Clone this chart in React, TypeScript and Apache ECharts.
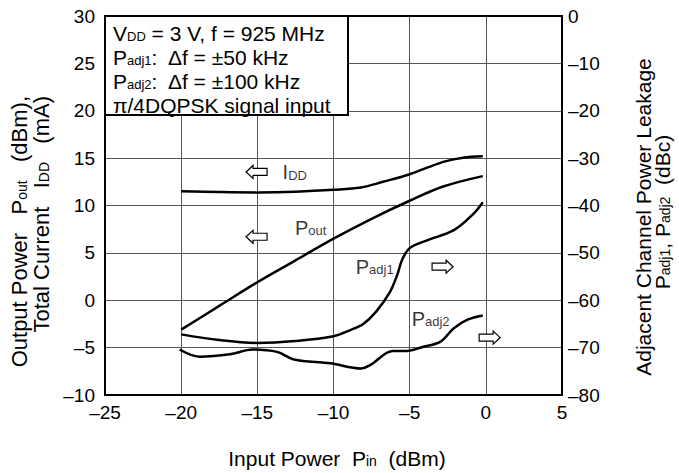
import React, { useEffect, useRef } from "react";
import * as echarts from "echarts";

const FONT = "'Liberation Sans', Arial, Helvetica, sans-serif";

// Axis ranges
const xRange = [-25, 5, 5];
const leftRange = [-10, 30, 5];
const rightRange = [-80, 0, 10];

// Curves: [Pin dBm, value]
const iddData = [
  [-20, 11.5], [-17.5, 11.42], [-15, 11.38], [-12.5, 11.45], [-10, 11.65],
  [-8.2, 11.9], [-6.75, 12.5], [-5, 13.3], [-2.8, 14.6], [-1.5, 15.05], [-0.2, 15.2],
];
const poutData = [
  [-20, -3.1], [-17.5, -0.6], [-15, 1.9], [-12.5, 4.2], [-10, 6.5],
  [-7.5, 8.6], [-5, 10.5], [-2.8, 12.0], [-0.2, 13.1],
];
// right axis (dBc)
const padj1Data = [
  [-20, -67.2], [-17.5, -68.4], [-15, -69.0], [-12.5, -68.6], [-10, -67.6],
  [-8.9, -66.3], [-8.05, -65.0], [-7.2, -62.4], [-6.3, -58.3], [-5.8, -54.5],
  [-5.5, -51.5], [-5.0, -49.0], [-3.9, -47.4], [-2.1, -45.2], [-0.8, -41.7], [-0.2, -39.3],
];
const padj2Data = [
  [-20.1, -70.4], [-18.8, -71.9], [-16.8, -71.4], [-15.3, -70.4], [-13.7, -70.9],
  [-12.6, -72.5], [-10.2, -73.3], [-8.2, -74.4], [-7.6, -73.7], [-6.1, -70.7],
  [-5.2, -70.7], [-4.1, -69.8], [-3.0, -68.8], [-2.1, -65.9], [-1.2, -64.1], [-0.2, -63.2],
];

// Curve labels (left-axis units)
const curveLabels = [
  { value: [-13.34, 13.5], name: "{m|I}{s|DD}" },
  { value: [-12.53, 7.63], name: "{m|P}{s|out}" },
  { value: [-8.54, 3.54], name: "{m|P}{s|adj1}" },
  { value: [-4.87, -2.0], name: "{m|P}{s|adj2}" },
];
// Hollow arrows: [x, y(left units), direction]
const arrowData = [
  [-15.74, 13.54, -1],
  [-15.74, 6.7, -1],
  [-2.15, 3.54, 1],
  [0.94, -3.95, 1],
];

const legendLines = [
  "{m|V}{s|DD}{m| = 3 V, f = 925 MHz}",
  "{m|P}{s|adj1}{m|:  Δf = ±50 kHz}",
  "{m|P}{s|adj2}{m|:  Δf = ±100 kHz}",
  "{m|π/4DQPSK signal input}",
];

const xAxisTitle = "{m|Input Power  P}{s|in}{m|  (dBm)}";
const leftTitle1 = "{m|Output Power   P}{s|out}{m|   (dBm),}";
const leftTitle2 = "{m|Total Current   I}{s|DD}{m|   (mA)}";
const rightTitle1 = "{m|Adjacent Channel Power Leakage}";
const rightTitle2 = "{m|P}{s|adj1}{m|, P}{s|adj2}{m|  (dBc)}";

const fmt = (v: number) => (v < 0 ? "\u2013" + Math.abs(v) : String(v));

// main font, sub font, line height, sub box height (sets the subscript's vertical position)
const rich = (main: number, sub: number, lh: number, sh: number) => ({
  m: { fontSize: main, fontFamily: FONT, color: "#000", lineHeight: lh },
  s: { fontSize: sub, fontFamily: FONT, color: "#000", lineHeight: 10, height: sh, verticalAlign: "bottom" },
});

export default function App() {
  const ref = useRef<HTMLDivElement>(null);
  useEffect(() => {
    if (!ref.current) return;
    const chart = echarts.init(ref.current, null, { renderer: "svg" });
    const line = (data: number[][], yIdx: number) => ({
      type: "line",
      data,
      yAxisIndex: yIdx,
      showSymbol: false,
      smooth: 0.35,
      lineStyle: { color: "#000", width: 2.5 },
      silent: true,
      z: 3,
    });
    const txtRich = rich(20, 13, 24, 18.5);
    const axRich = rich(21, 14, 24, 18.5);
    const leftRich = rich(22, 14, 26, 20);
    chart.setOption({
      animation: false,
      backgroundColor: "#fff",
      grid: {
        left: 105, right: 117, top: 16, bottom: 78,
        show: true, borderColor: "#000", borderWidth: 2, z: 4,
      },
      xAxis: {
        type: "value", min: xRange[0], max: xRange[1], interval: xRange[2],
        axisLine: { show: false }, axisTick: { show: false },
        splitLine: { show: true, lineStyle: { color: "#555", width: 1 } },
        axisLabel: { formatter: fmt, fontSize: 19, fontFamily: FONT, color: "#000", margin: 8 },
      },
      yAxis: [
        {
          type: "value", min: leftRange[0], max: leftRange[1], interval: leftRange[2],
          axisLine: { show: false }, axisTick: { show: false },
          splitLine: { show: true, lineStyle: { color: "#555", width: 1 } },
          axisLabel: { formatter: fmt, fontSize: 19, fontFamily: FONT, color: "#000", margin: 10 },
        },
        {
          type: "value", min: rightRange[0], max: rightRange[1], interval: rightRange[2],
          position: "right",
          axisLine: { show: false }, axisTick: { show: false },
          splitLine: { show: false },
          axisLabel: { formatter: fmt, fontSize: 19, fontFamily: FONT, color: "#000", margin: 6 },
        },
      ],
      series: [
        line(iddData, 0),
        line(poutData, 0),
        line(padj1Data, 1),
        line(padj2Data, 1),
        {
          type: "scatter",
          yAxisIndex: 0,
          symbolSize: 0,
          data: curveLabels,
          silent: true,
          label: {
            show: true, position: "right", distance: 0,
            formatter: (p: any) => p.name,
            rich: txtRich,
          },
          z: 5,
        },
        {
          type: "custom",
          yAxisIndex: 0,
          data: arrowData,
          silent: true,
          z: 5,
          renderItem: (_params: any, api: any) => {
            const p = api.coord([api.value(0), api.value(1)]);
            const s = -api.value(2);
            const shape = [[0, 0], [7, -6.5], [7, -3.5], [21, -3.5], [21, 3.5], [7, 3.5], [7, 6.5]];
            return {
              type: "polygon",
              shape: { points: shape.map(([a, b]) => [p[0] + s * a, p[1] + b]) },
              style: { fill: "#fff", stroke: "#000", lineWidth: 1.2 },
            };
          },
        },
      ],
      graphic: [
        {
          type: "rect", z: 10,
          shape: { x: 105, y: 16, width: 243, height: 99 },
          style: { fill: "#fff", stroke: "#000", lineWidth: 2 },
        },
        {
          type: "text", z: 11, x: 113, y: 21,
          style: { text: legendLines.join("\n"), rich: rich(21, 13, 24, 18), align: "left", verticalAlign: "top" },
        },
        {
          type: "text", z: 11, x: 337, y: 458,
          style: { text: xAxisTitle, rich: axRich, align: "center", verticalAlign: "middle" },
        },
        {
          type: "text", z: 11, x: 19, y: 96, rotation: Math.PI / 2,
          style: { text: leftTitle1, rich: leftRich, align: "right", verticalAlign: "middle" },
        },
        {
          type: "text", z: 11, x: 41, y: 96, rotation: Math.PI / 2,
          style: { text: leftTitle2, rich: leftRich, align: "right", verticalAlign: "middle" },
        },
        {
          type: "text", z: 11, x: 643, y: 217, rotation: Math.PI / 2,
          style: { text: rightTitle1, rich: axRich, align: "center", verticalAlign: "middle" },
        },
        {
          type: "text", z: 11, x: 662, y: 212, rotation: Math.PI / 2,
          style: { text: rightTitle2, rich: axRich, align: "center", verticalAlign: "middle" },
        },
      ],
    });
    return () => chart.dispose();
  }, []);
  return <div ref={ref} style={{ position: "absolute", left: 0, top: 0, width: 679, height: 473 }} />;
}
